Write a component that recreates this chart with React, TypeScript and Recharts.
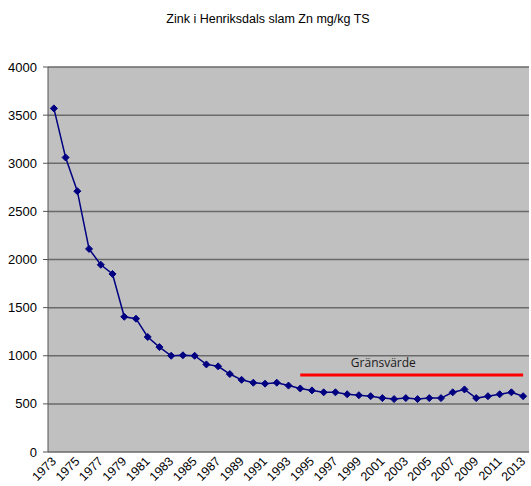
import {
  LineChart,
  Line,
  XAxis,
  YAxis,
  CartesianGrid,
} from "recharts";

const years = [
  1973, 1974, 1975, 1976, 1977, 1978, 1979, 1980, 1981, 1982,
  1983, 1984, 1985, 1986, 1987, 1988, 1989, 1990, 1991, 1992,
  1993, 1994, 1995, 1996, 1997, 1998, 1999, 2000, 2001, 2002,
  2003, 2004, 2005, 2006, 2007, 2008, 2009, 2010, 2011, 2012, 2013,
];

const zink = [
  3570, 3060, 2710, 2110, 1945, 1850, 1405, 1385, 1195, 1090,
  1000, 1005, 1000, 910, 890, 810, 750, 720, 710, 720,
  690, 660, 640, 620, 620, 600, 590, 580, 560, 550,
  560, 550, 560, 560, 620, 650, 560, 580, 600, 620, 580,
];

// Gränsvärde from 1994 onward
const gransStart = 1994;
const gransValue = 800;

const yTicks = [0, 500, 1000, 1500, 2000, 2500, 3000, 3500, 4000];
const labelYears = years.filter((y) => (y - 1973) % 2 === 0);
const boundaries = [...years.map((y) => y - 0.5), 2013.5];

const data = years.map((year, i) => ({
  year,
  zink: zink[i],
  grans: year >= gransStart ? gransValue : null,
}));

const FONT = "Arial, 'Liberation Sans', sans-serif";

function Diamond(props: any) {
  const { cx, cy } = props;
  if (cx == null || cy == null) return null;
  const r = 3.5;
  return (
    <path
      d={`M${cx},${cy - r}L${cx + r},${cy}L${cx},${cy + r}L${cx - r},${cy}Z`}
      fill="#000080"
      stroke="#000080"
    />
  );
}

function YearTick(props: any) {
  const { x, y, payload } = props;
  const ax = x + 3;
  const ay = y + 10;
  return (
    <text
      x={ax}
      y={ay}
      transform={`rotate(-45 ${ax} ${ay})`}
      textAnchor="end"
      fontSize={12.5}
      fontFamily={FONT}
      fill="#000"
    >
      {payload.value}
    </text>
  );
}

function GransLabel(props: any) {
  const { x, y, index } = props;
  if (data[index]?.year !== 2001) return null;
  return (
    <text
      x={x + 1}
      y={y - 8}
      textAnchor="middle"
      fontSize={12}
      fontFamily="'Open Sans', sans-serif"
      fill="#1a1a1a"
    >
      Gränsvärde
    </text>
  );
}

export default function App() {
  return (
    <div style={{ position: "absolute", left: 0, top: 0, width: 531, height: 486, background: "#fff" }}>
      <div
        style={{
          position: "absolute",
          left: 0,
          top: 12,
          width: 536,
          textAlign: "center",
          fontFamily: FONT,
          fontSize: 12.5,
          color: "#000",
        }}
      >
        Zink i Henriksdals slam Zn mg/kg TS
      </div>
      <LineChart
        width={531}
        height={486}
        data={data}
        margin={{ top: 67, right: 2, left: 0, bottom: 0 }}
      >
        <CartesianGrid
          xAxisId="main"
          vertical={false}
          fill="#C0C0C0"
          stroke="#6a6a6a"
          strokeWidth={1.5}
        />
        <XAxis
          xAxisId="bounds"
          dataKey="year"
          type="number"
          domain={[1972.5, 2013.5]}
          ticks={boundaries}
          interval={0}
          height={0}
          tick={false}
          tickSize={5}
          tickLine={{ stroke: "#555" }}
          axisLine={{ stroke: "#555" }}
        />
        <XAxis
          xAxisId="main"
          dataKey="year"
          type="number"
          domain={[1972.5, 2013.5]}
          ticks={labelYears}
          interval={0}
          height={34}
          tickLine={false}
          axisLine={false}
          tickSize={0}
          tickMargin={0}
          tick={<YearTick />}
        />
        <YAxis
          width={48}
          domain={[0, 4000]}
          ticks={yTicks}
          interval={0}
          tickSize={5}
          tickMargin={6}
          tickLine={{ stroke: "#555" }}
          axisLine={{ stroke: "#555" }}
          tick={{ fontSize: 13, fontFamily: FONT, fill: "#000" }}
        />
        <Line
          xAxisId="main"
          dataKey="zink"
          stroke="#000080"
          strokeWidth={1.5}
          dot={<Diamond />}
          activeDot={false}
          isAnimationActive={false}
        />
        <Line
          xAxisId="main"
          dataKey="grans"
          stroke="#FF0000"
          strokeWidth={3}
          dot={false}
          activeDot={false}
          connectNulls={false}
          label={<GransLabel />}
          isAnimationActive={false}
        />
      </LineChart>
    </div>
  );
}
